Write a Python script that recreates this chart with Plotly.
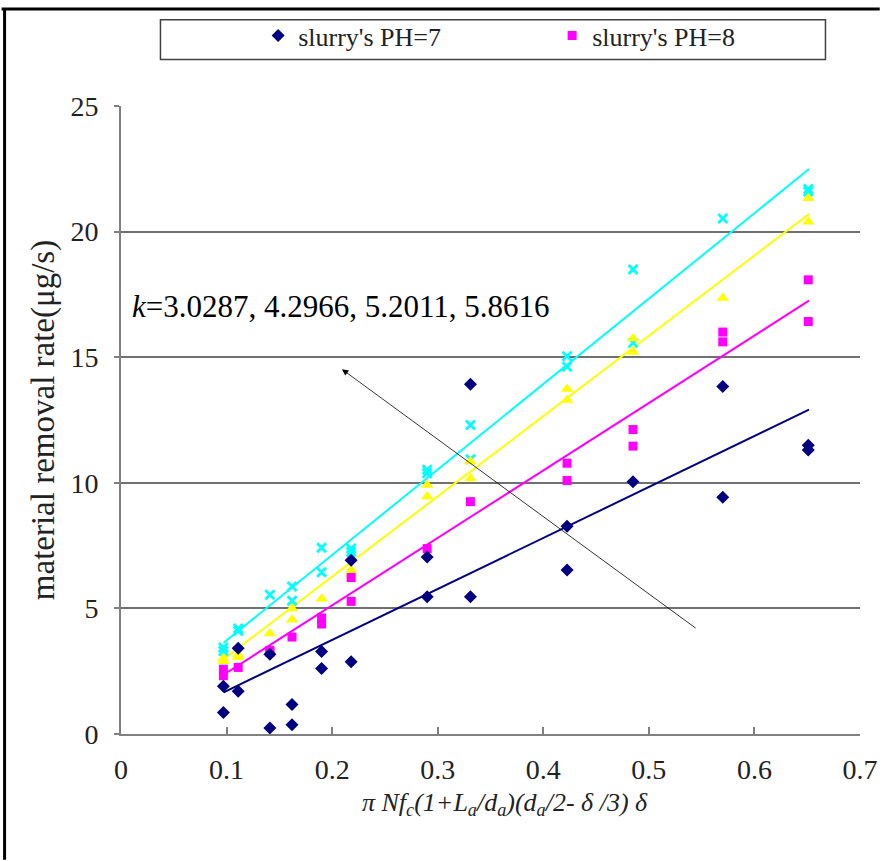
import plotly.graph_objects as go

# ---- data ----
x_ph7 = [0.097, 0.097, 0.111, 0.111, 0.141, 0.141, 0.162, 0.162, 0.190, 0.190, 0.218, 0.218,
         0.290, 0.290, 0.331, 0.331, 0.4225, 0.4225, 0.485, 0.570, 0.570, 0.651, 0.651]
y_ph7 = [1.90, 0.86, 3.41, 1.70, 3.17, 0.24, 1.17, 0.37, 3.28, 2.61, 6.92, 2.88,
         7.05, 5.46, 13.92, 5.46, 8.27, 6.53, 10.04, 13.83, 9.42, 11.49, 11.31]

x_ph8 = [0.097, 0.097, 0.111, 0.141, 0.141, 0.162, 0.190, 0.190, 0.218, 0.218,
         0.290, 0.331, 0.4225, 0.4225, 0.485, 0.485, 0.570, 0.570, 0.651, 0.651]
y_ph8 = [2.58, 2.32, 2.65, 3.33, 3.25, 3.86, 4.62, 4.38, 6.23, 5.28,
         7.38, 9.25, 10.78, 10.09, 12.12, 11.46, 16.00, 15.61, 18.08, 16.42]

x_s3 = [0.097, 0.097, 0.111, 0.111, 0.141, 0.162, 0.162, 0.190, 0.218, 0.218,
        0.290, 0.290, 0.331, 0.331, 0.4225, 0.4225, 0.485, 0.485, 0.570, 0.651, 0.651]
y_s3 = [3.02, 2.90, 3.15, 3.05, 4.00, 5.00, 4.55, 5.38, 6.53, 6.35,
        9.91, 9.45, 10.85, 10.17, 13.73, 13.30, 15.74, 15.21, 17.36, 21.33, 20.39]

x_s4 = [0.097, 0.097, 0.111, 0.111, 0.141, 0.162, 0.162, 0.190, 0.190, 0.218, 0.218,
        0.290, 0.290, 0.331, 0.331, 0.4225, 0.4225, 0.485, 0.485, 0.570, 0.651, 0.651]
y_s4 = [3.44, 3.30, 4.20, 4.10, 5.54, 5.87, 5.30, 7.41, 6.44, 7.38, 7.25,
        10.52, 10.38, 12.30, 10.94, 15.04, 14.62, 18.49, 15.57, 20.52, 21.70, 21.60]

fit_x = [0.0972, 0.6517]
fit_ph7 = [1.66, 12.91]
fit_ph8 = [2.36, 17.25]
fit_s3 = [2.98, 20.70]
fit_s4 = [3.63, 22.49]

x_ticks = [0, 0.1, 0.2, 0.3, 0.4, 0.5, 0.6, 0.7]
y_ticks = [0, 5, 10, 15, 20, 25]
k_text = "<i>k</i>=3.0287, 4.2966, 5.2011, 5.8616"
x_title = "<i>π Nf<sub>c</sub>(1+L<sub>a</sub>/d<sub>a</sub>)(d<sub>a</sub>/2- δ /3) δ</i>"
y_title = "material removal rate(μg/s)"

NAVY = "#000080"
MAG = "#FF00FF"
YEL = "#FFFF00"
CYA = "#00FFFF"
FONT = "Liberation Serif, Tinos, Times New Roman, Times, DejaVu Serif, serif"

fig = go.Figure()

fig.add_trace(go.Scatter(x=fit_x, y=fit_s4, mode="lines", line=dict(color=CYA, width=2), showlegend=False, hoverinfo="skip"))
fig.add_trace(go.Scatter(x=fit_x, y=fit_s3, mode="lines", line=dict(color=YEL, width=2), showlegend=False, hoverinfo="skip"))
fig.add_trace(go.Scatter(x=fit_x, y=fit_ph8, mode="lines", line=dict(color=MAG, width=2), showlegend=False, hoverinfo="skip"))
fig.add_trace(go.Scatter(x=fit_x, y=fit_ph7, mode="lines", line=dict(color=NAVY, width=2), showlegend=False, hoverinfo="skip"))

fig.add_trace(go.Scatter(x=x_s4, y=y_s4, mode="markers", showlegend=False,
                         marker=dict(symbol="x-thin", size=9, line=dict(color=CYA, width=2.8), color=CYA)))
fig.add_trace(go.Scatter(x=x_s3, y=y_s3, mode="markers", showlegend=False,
                         marker=dict(symbol="triangle-up", size=11, color=YEL)))
fig.add_trace(go.Scatter(x=x_ph8, y=y_ph8, mode="markers", name="slurry's PH=8",
                         marker=dict(symbol="square", size=9, color=MAG)))
fig.add_trace(go.Scatter(x=x_ph7, y=y_ph7, mode="markers", name="slurry's PH=7",
                         marker=dict(symbol="diamond", size=10, color=NAVY)))

fig.update_layout(
    width=890, height=861,
    margin=dict(l=121, r=20, t=100, b=127),
    paper_bgcolor="white", plot_bgcolor="white",
    font=dict(family=FONT, size=28, color="#222222"),
    showlegend=True,
    legend=dict(orientation="h", x=(260 - 121) / 749, y=1.112, xanchor="left", yanchor="middle",
                traceorder="reversed", entrywidth=249, entrywidthmode="pixels",
                font=dict(family=FONT, size=26, color="#222222"),
                bgcolor="rgba(0,0,0,0)", borderwidth=0, itemwidth=30),
    xaxis=dict(range=[0, 0.7], tickvals=x_ticks, ticktext=[str(v) for v in x_ticks],
               showgrid=False, zeroline=False, showline=True, linecolor="#808080", linewidth=2,
               ticks="inside", ticklen=7, tickcolor="#808080", tickwidth=1.5,
               ticklabelstandoff=9,
               tickfont=dict(family=FONT, size=28, color="#222222")),
    yaxis=dict(range=[0, 25], tickvals=y_ticks, ticktext=[str(v) for v in y_ticks],
               showgrid=True, gridcolor="#707070", gridwidth=2, zeroline=False,
               showline=True, linecolor="#808080", linewidth=2,
               ticks="outside", ticklen=5, tickcolor="#808080", tickwidth=1.5,
               ticklabelstandoff=10,
               tickfont=dict(family=FONT, size=28, color="#222222"),
               title=dict(text=y_title,
                          font=dict(family=FONT, size=33, color="#222222"), standoff=6)),
)

# legend frame
fig.add_shape(type="rect", xref="paper", yref="paper",
              x0=(161 - 121) / 749, x1=(835 - 121) / 749,
              y0=(734 - 53) / 634, y1=(734 - 13) / 634,
              line=dict(color="#404040", width=1.5), fillcolor="rgba(0,0,0,0)")
# outer frame lines (top, left)
fig.add_shape(type="line", xref="paper", yref="paper",
              x0=-121 / 749, x1=(890 - 121) / 749, y0=(734 - 2) / 634, y1=(734 - 2) / 634,
              line=dict(color="black", width=3))
fig.add_shape(type="line", xref="paper", yref="paper",
              x0=(3 - 121) / 749, x1=(3 - 121) / 749, y0=(734 - 2) / 634, y1=-127 / 634,
              line=dict(color="black", width=3))

# x-axis title
fig.add_annotation(x=(510 - 121) / 749, y=(734 - 805) / 634, xref="paper", yref="paper",
                   text=x_title, showarrow=False, xanchor="center", yanchor="middle",
                   font=dict(family=FONT, size=26, color="#222222"))

fig.add_annotation(x=0.0084, y=17.0, xref="x", yref="y", text=k_text, showarrow=False,
                   xanchor="left", yanchor="middle",
                   font=dict(family=FONT, size=31, color="black"))
fig.add_annotation(x=0.2093, y=14.52, ax=0.5458, ay=4.17, xref="x", yref="y", axref="x", ayref="y",
                   text="", showarrow=True, arrowhead=2, arrowsize=1.6, arrowwidth=0.8,
                   arrowcolor="black")

fig.write_html("out.html", config={"displayModeBar": False},
               post_script="document.body.style.margin='0px';document.body.style.overflow='hidden';")
